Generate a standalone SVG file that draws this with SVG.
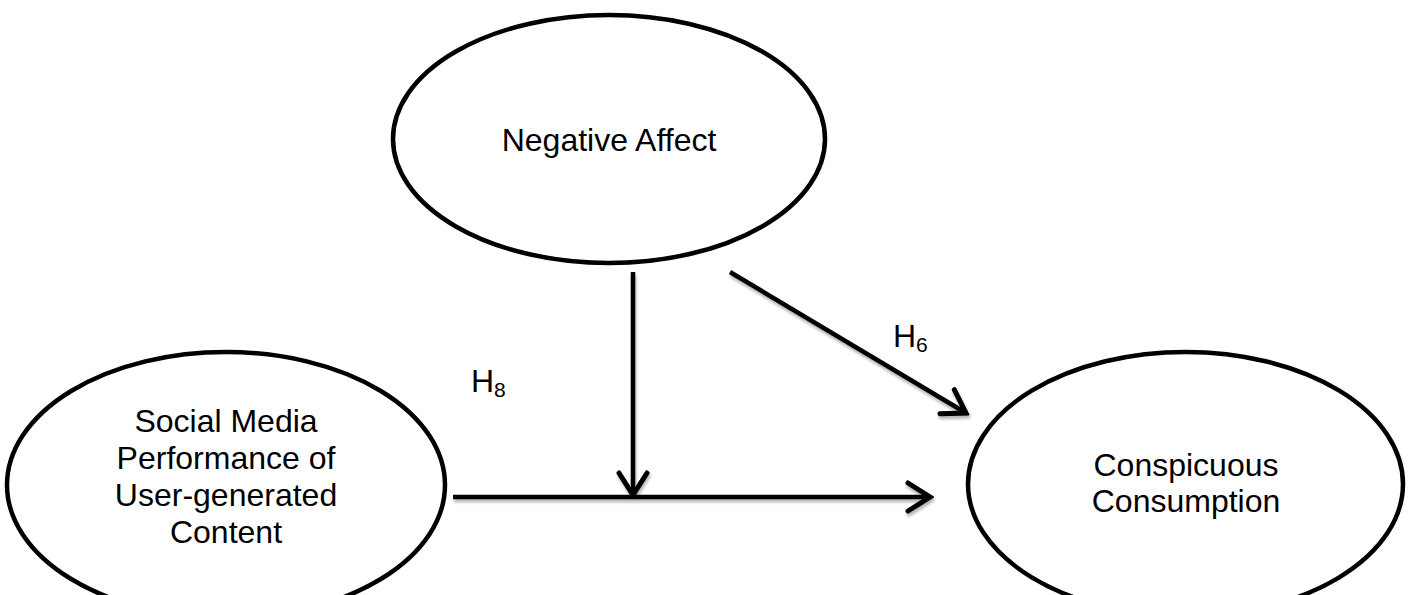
<svg xmlns="http://www.w3.org/2000/svg" width="1411" height="595" viewBox="0 0 1411 595">
  <style>
    .node { fill: #ffffff; stroke: #000000; stroke-width: 4.5; }
    .lbl { font-family: "Liberation Sans", Arial, sans-serif; font-size: 32px; fill: #000000; text-anchor: middle; }
    .hyp { font-family: "Liberation Sans", Arial, sans-serif; font-size: 32px; fill: #000000; }
    .sub { font-size: 21px; }
    .edge { stroke: #000000; stroke-width: 4.5; fill: none; marker-end: url(#arrow); }
  </style>
  <defs>
    <marker id="arrow" markerUnits="userSpaceOnUse" viewBox="-27 -17 31 34" refX="0" refY="0" markerWidth="31" markerHeight="34" orient="auto">
      <path d="M -22 -14 L 0 0 L -22 14" fill="none" stroke="#000000" stroke-width="5" stroke-linecap="round" stroke-linejoin="miter"/>
    </marker>
    <filter id="shadow" x="-10%" y="-20%" width="120%" height="160%">
      <feGaussianBlur in="SourceAlpha" stdDeviation="1.5"/>
      <feOffset dx="1" dy="3" result="b"/>
      <feComponentTransfer><feFuncA type="linear" slope="0.3"/></feComponentTransfer>
      <feMerge><feMergeNode/><feMergeNode in="SourceGraphic"/></feMerge>
    </filter>
  </defs>
  <rect width="1411" height="595" fill="#ffffff"/>

  <g id="connectors" filter="url(#shadow)">
    <line class="edge" x1="453" y1="497" x2="930" y2="497"/>
    <line class="edge" x1="633" y1="272" x2="633" y2="495"/>
    <line class="edge" x1="730" y1="272" x2="966" y2="413"/>
  </g>

  <g id="node-negative-affect">
    <ellipse class="node" cx="609" cy="139" rx="216" ry="124"/>
    <text class="lbl" x="609" y="151">Negative Affect</text>
  </g>

  <g id="node-social-media">
    <ellipse class="node" cx="226" cy="485" rx="219" ry="133"/>
    <text class="lbl" x="226" y="432">Social Media</text>
    <text class="lbl" x="226" y="469">Performance of</text>
    <text class="lbl" x="226" y="506">User-generated</text>
    <text class="lbl" x="226" y="543">Content</text>
  </g>

  <g id="node-conspicuous">
    <ellipse class="node" cx="1185.5" cy="484" rx="217.5" ry="132"/>
    <text class="lbl" x="1186" y="476">Conspicuous</text>
    <text class="lbl" x="1186" y="512">Consumption</text>
  </g>

  <g id="labels">
    <text class="hyp" x="471" y="392">H<tspan class="sub" dy="5">8</tspan></text>
    <text class="hyp" x="893" y="347">H<tspan class="sub" dy="5">6</tspan></text>
  </g>
</svg>
